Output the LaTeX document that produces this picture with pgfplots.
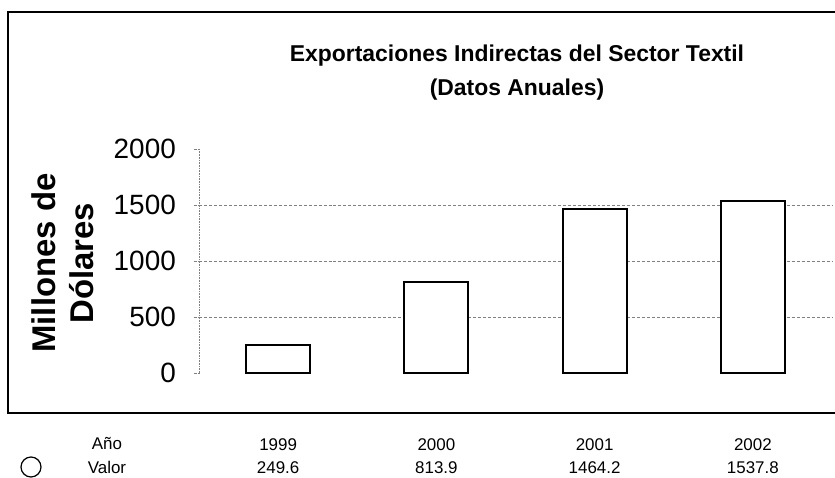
\documentclass[border=0pt]{standalone}
\usepackage{fontspec}
\setmainfont{Liberation Sans}
\usepackage{pgfplots}
\pgfplotsset{compat=1.18}

\begin{document}
\begin{tikzpicture}
% the axis box sits at the origin; everything else is placed around it in bp
\useasboundingbox (-199bp,373bp) rectangle (636bp,-105bp);
% outer frame (open on the right, as in the scan)
\draw[line width=1.6bp] (636bp,361bp) -- (-191bp,361bp) -- (-191bp,-40bp) -- (636bp,-40bp);
\node[font=\bfseries\fontsize{23}{34}\selectfont, align=center] at (318bp,300bp)
  {Exportaciones Indirectas del Sector Textil\\(Datos Anuales)};

\begin{axis}[
    at={(0,0)}, anchor=south west,
    scale only axis, width=633bp, height=224bp,
    xmin=-0.5, xmax=3.5, ymin=0, ymax=2000,
    ybar, bar width=64bp,
    axis lines*=left,
    axis line style={-},
    x axis line style={draw=none},
    y axis line style={densely dotted, gray, line width=0.6bp},
    xtick={0,1,2,3},
    xticklabels={{1999\\249.6},{2000\\813.9},{2001\\1464.2},{2002\\1537.8}},
    xtick style={draw=none},
    xticklabel style={align=center, anchor=north, inner sep=0pt,
      font=\fontsize{17}{24}\selectfont},
    xticklabel shift=60bp,
    ytick={0,2000},
    extra y ticks={500,1000,1500},
    extra y tick style={grid=major},
    grid style={densely dashed, gray, line width=0.5bp},
    ytick style={gray, densely dotted, line width=0.6bp},
    tick align=outside,
    major tick length=5bp,
    yticklabel style={font=\fontsize{28}{28}\selectfont, inner sep=0pt},
    yticklabel shift=18bp,
    /pgf/number format/assume math mode=true,
    /pgf/number format/1000 sep={},
    ylabel={Millones de\\Dólares},
    every axis y label/.style={at={(axis description cs:-0.215,0.491)},
      rotate=90, anchor=center, align=center,
      font=\bfseries\fontsize{33}{38.5}\selectfont},
]
\addplot[draw=black, fill=white, line width=1.8bp] coordinates {
    (0,249.6) (1,813.9) (2,1464.2) (3,1537.8)
};
\end{axis}

% data table row headers, on the baselines of the year and value rows
\node[font=\fontsize{17}{24}\selectfont, anchor=base, inner sep=0pt] at (-92bp,-76bp) {Año};
\node[font=\fontsize{17}{24}\selectfont, anchor=base, inner sep=0pt] at (-92bp,-100bp) {Valor};
\node[circle, draw, line width=1.2bp, minimum size=20bp, inner sep=0pt] at (-168bp,-94bp) {};
\end{tikzpicture}
\end{document}
